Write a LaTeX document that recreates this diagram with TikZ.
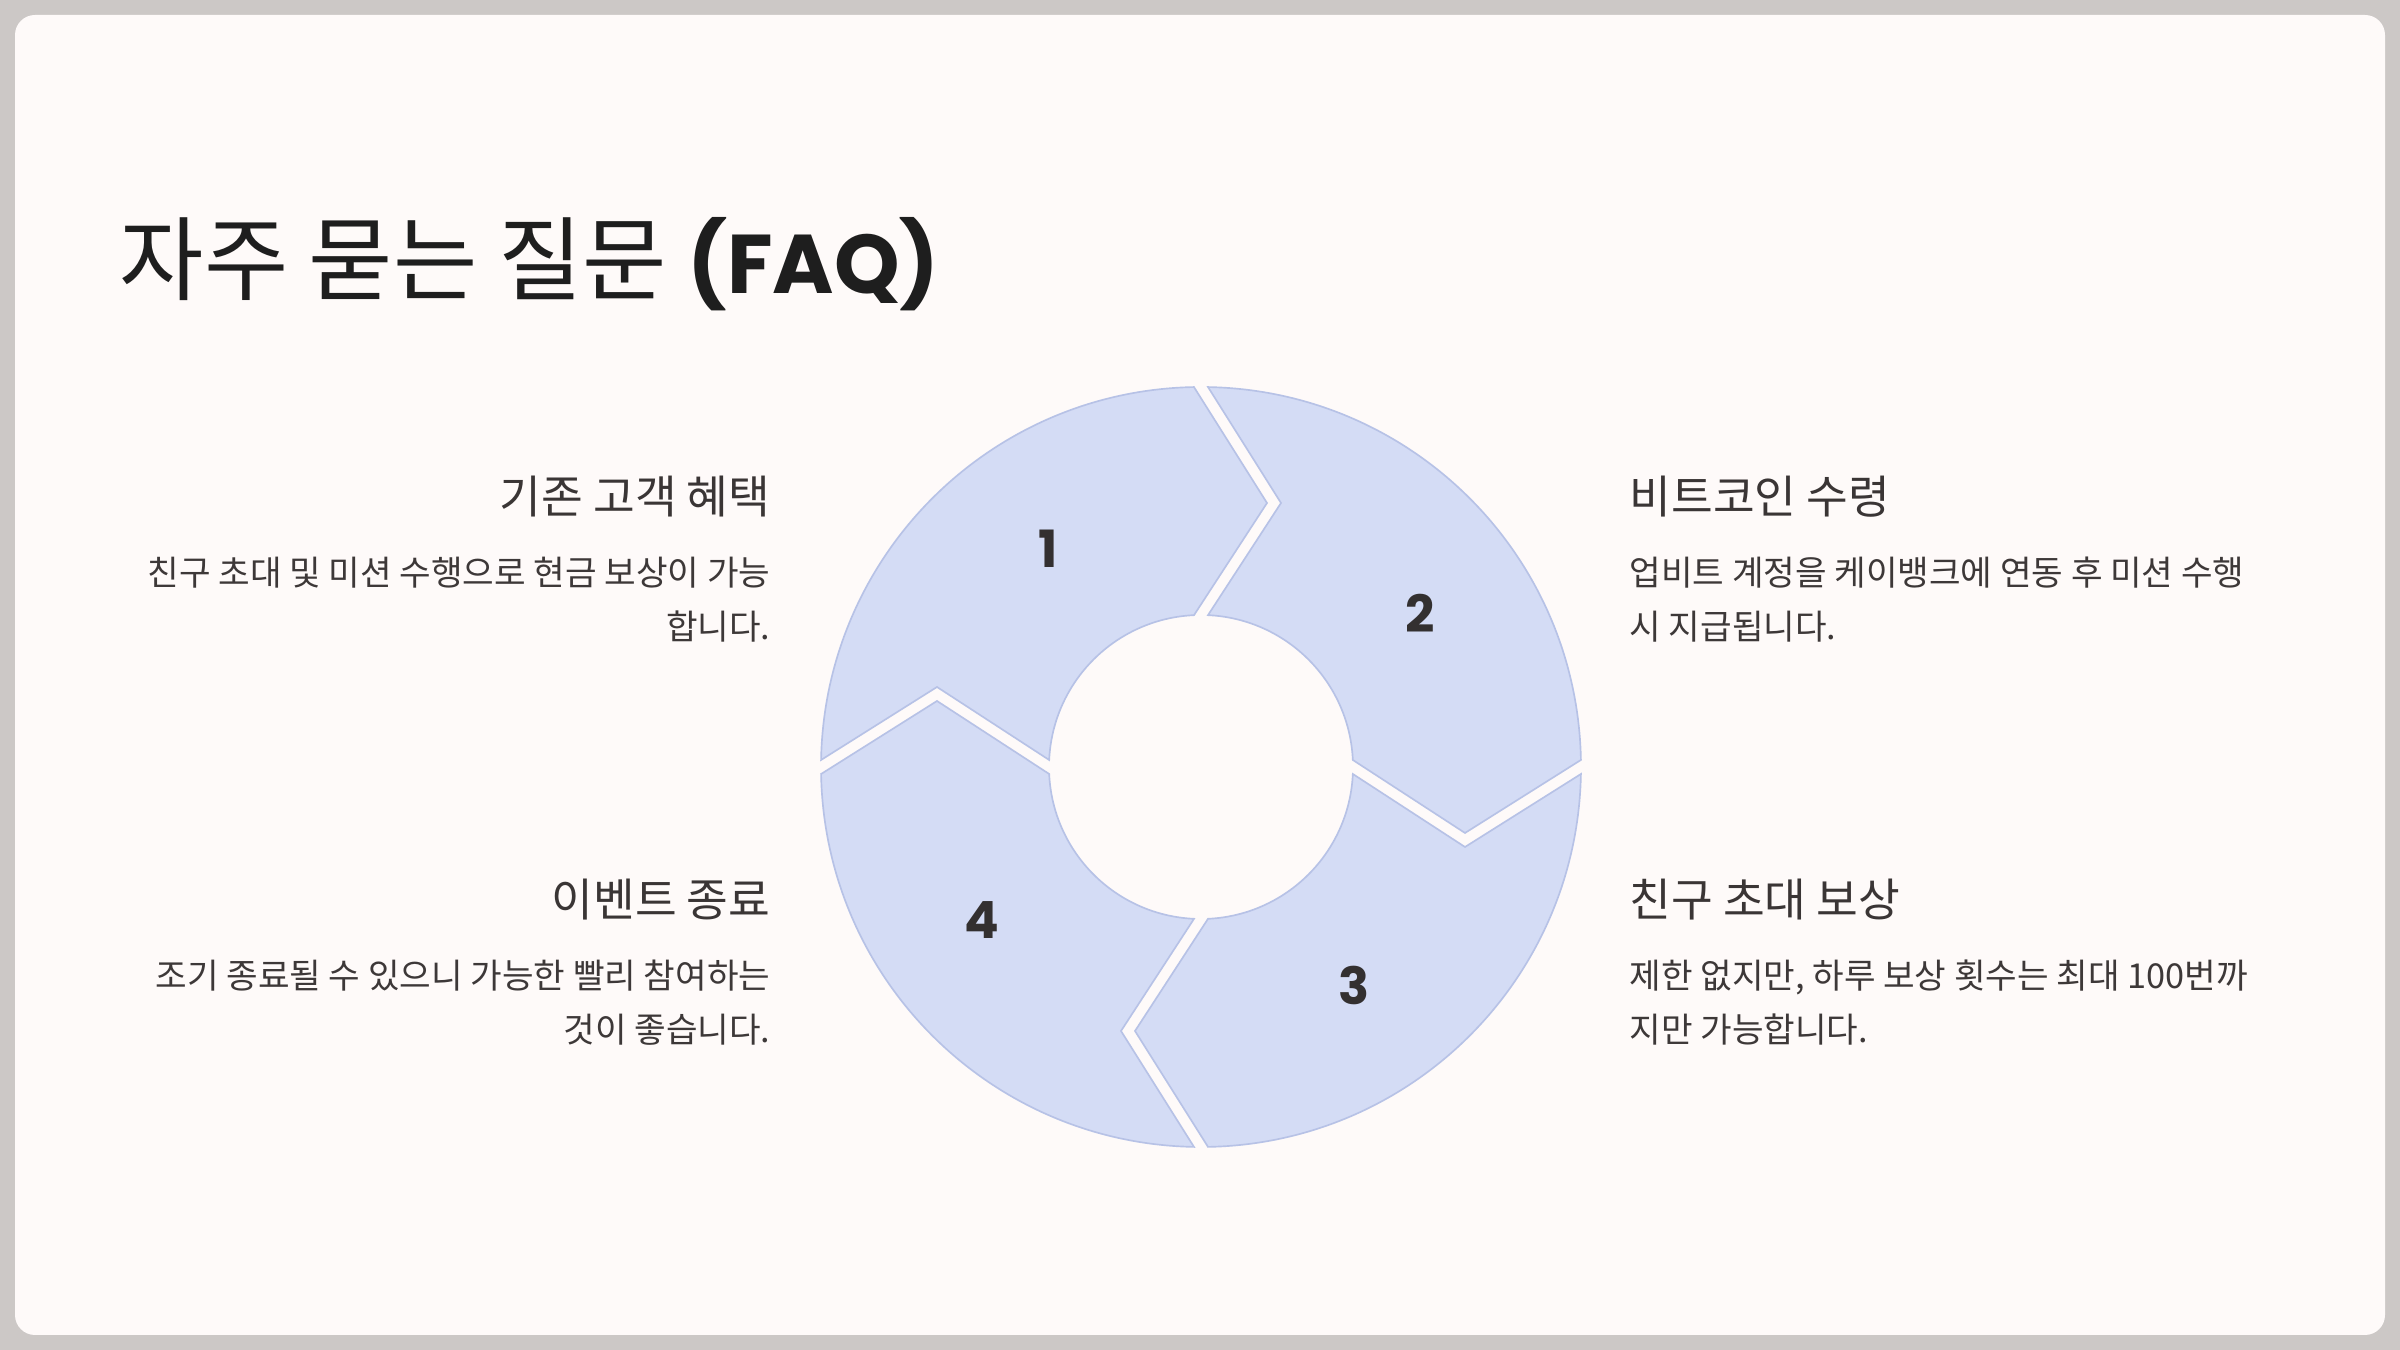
\documentclass[tikz,border=0pt]{standalone}
\usepackage{fontspec}
\usetikzlibrary{calc}
\newfontfamily\kr{Noto Sans CJK KR}
\newfontfamily\pop{Poppins}
\definecolor{framebg}{HTML}{CCC8C6}
\definecolor{cardbg}{HTML}{FEFAF9}
\definecolor{segfill}{HTML}{D4DCF5}
\definecolor{segline}{HTML}{B7C2E6}
\definecolor{titlec}{HTML}{1E1E1E}
\definecolor{headc}{HTML}{3A3535}
\definecolor{bodyc}{HTML}{3D3838}
\definecolor{numc}{HTML}{333030}
\tikzset{
  seg/.style={fill=segfill, draw=segline, line width=0.5pt, line join=miter},
  heading/.style={font=\kr\fontsize{13.6pt}{16pt}\selectfont, text=headc, inner sep=0pt},
  bodytxt/.style={font=\kr\fontsize{10.3pt}{16pt}\selectfont, text=bodyc, inner sep=0pt},
  numlbl/.style={font=\pop\bfseries\fontsize{15.4pt}{18pt}\selectfont, text=numc, inner sep=0pt}
}
\begin{document}
\begin{tikzpicture}[x=0.3pt,y=0.3pt]
\useasboundingbox (0,0) rectangle (2400,1350);
\fill[framebg] (0,0) rectangle (2400,1350);
\fill[cardbg, rounded corners=6pt] (15,15) rectangle (2385,1335);

% ring segments
\foreach \r in {0,-90,-180,-270}{
  \begin{scope}[shift={(1201,583)}, rotate=\r]
    \draw[seg] (178.94:114pt) arc[start angle=178.94, end angle=91.06, radius=114pt]
      -- (66,264) -- (92.64:45.6pt)
      arc[start angle=92.64, end angle=177.36, radius=45.6pt]
      -- (-264,80) -- cycle;
  \end{scope}
}
\coordinate (c) at (1201,583);
\node[numlbl] (n1) at ($(c)+(125:80.1pt)$) {1};
\node[numlbl] (n2) at ($(c)+(35:80.1pt)$) {2};
\node[numlbl] (n3) at ($(c)+(-55:80.1pt)$) {3};
\node[numlbl] (n4) at ($(c)+(-145:80.1pt)$) {4};

% title
\node[anchor=base west, inner sep=0pt, text=titlec] (title) at (119,1056)
  {\kr\fontsize{27.5pt}{32pt}\selectfont 자주 묻는 질문 {\pop\bfseries\fontsize{25pt}{30pt}\selectfont (FAQ)}};

% left top
\node[heading, anchor=base east] (h1) at (771,836) {기존 고객 혜택};
\node[bodytxt, anchor=base east] (b1a) at (771,764) {친구 초대 및 미션 수행으로 현금 보상이 가능};
\node[bodytxt, anchor=base east] (b1b) at (771,710) {합니다.};
% right top
\node[heading, anchor=base west] (h2) at (1629,836) {비트코인 수령};
\node[bodytxt, anchor=base west] (b2a) at (1629,764) {업비트 계정을 케이뱅크에 연동 후 미션 수행};
\node[bodytxt, anchor=base west] (b2b) at (1629,710) {시 지급됩니다.};
% left bottom
\node[heading, anchor=base east] (h4) at (771,433) {이벤트 종료};
\node[bodytxt, anchor=base east] (b4a) at (771,361) {조기 종료될 수 있으니 가능한 빨리 참여하는};
\node[bodytxt, anchor=base east] (b4b) at (771,307) {것이 좋습니다.};
% right bottom
\node[heading, anchor=base west] (h3) at (1629,433) {친구 초대 보상};
\node[bodytxt, anchor=base west] (b3a) at (1629,361) {제한 없지만, 하루 보상 횟수는 최대 100번까};
\node[bodytxt, anchor=base west] (b3b) at (1629,307) {지만 가능합니다.};
\end{tikzpicture}
\end{document}
